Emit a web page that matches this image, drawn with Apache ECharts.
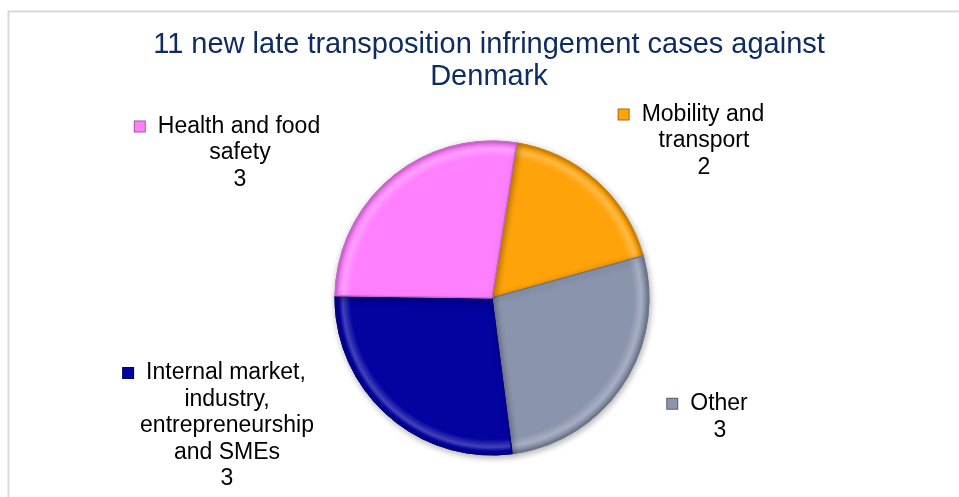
<!DOCTYPE html>
<html>
<head>
<meta charset="utf-8">
<script src="https://cdn.jsdelivr.net/npm/echarts@6/dist/echarts.min.js"></script>
<style>
  html, body { margin: 0; padding: 0; background: #fff; }
  #main { width: 959px; height: 497px; }
</style>
</head>
<body>
<div id="main"></div>
<script>
const titleText = '11 new late transposition infringement cases against\nDenmark';
const categories = ['Mobility and transport', 'Other', 'Internal market, industry, entrepreneurship and SMEs', 'Health and food safety'];
const labelNames = ['Mobility and\ntransport', 'Other', 'Internal market,\nindustry,\nentrepreneurship\nand SMEs', 'Health and food\nsafety'];
const values = [2, 3, 3, 3];
const colors = ['#FFA30A', '#8A94AD', '#0303A0', '#FF80FF'];

// label centres (px), same order as the data
const labelPos = [[704, 141], [720, 417], [227, 426], [240, 153]];

const cx = 492, cy = 298, R = 157;

function mix(hex, target, t) {
  const a = echarts.color.parse(hex), b = echarts.color.parse(target);
  const c = [0, 1, 2].map(i => Math.round(a[i] + (b[i] - a[i]) * t));
  return 'rgb(' + c.join(',') + ')';
}

function bevel(col) {
  return {
    type: 'radial', x: cx, y: cy, r: R, global: true,
    colorStops: [
      {offset: 0, color: col},
      {offset: 0.9, color: col},
      {offset: 0.95, color: mix(col, '#ffffff', 0.25)},
      {offset: 0.975, color: col},
      {offset: 1, color: mix(col, '#000000', 0.25)}
    ]
  };
}

const rich = {
  t: {fontSize: 23, lineHeight: 26.5, color: '#000', fontFamily: 'Liberation Sans, Arial, sans-serif'},
  g: {width: 13},
  s: {width: 25}
};
colors.forEach((c, i) => {
  rich['m' + i] = {
    width: 10, height: 10, backgroundColor: c,
    borderColor: mix(c, '#000000', 0.35), borderWidth: 1
  };
});

const data = categories.map((name, i) => ({
  name: name,
  value: values[i],
  itemStyle: {color: bevel(colors[i]), borderColor: mix(colors[i], '#000000', 0.2)}
}));

const chart = echarts.init(document.getElementById('main'));
chart.setOption({
  backgroundColor: '#fff',
  title: {
    text: titleText,
    left: 489,
    textAlign: 'center',
    top: 29,
    padding: 0,
    textStyle: {
      fontSize: 29,
      lineHeight: 32,
      fontWeight: 'normal',
      color: '#0E2B63',
      fontFamily: 'Liberation Sans, Arial, sans-serif'
    }
  },
  graphic: [{
    type: 'rect',
    shape: {x: 8.5, y: 11.5, width: 1000, height: 600},
    style: {fill: 'none', stroke: '#d9d9d9', lineWidth: 2},
    silent: true
  }],
  series: [{
    type: 'pie',
    center: [cx, cy],
    radius: R,
    startAngle: 81,
    clockwise: true,
    avoidLabelOverlap: false,
    data: data,
    itemStyle: {
      borderWidth: 1,
      shadowBlur: 6,
      shadowOffsetX: 1,
      shadowOffsetY: 2,
      shadowColor: 'rgba(0,0,0,0.3)'
    },
    emphasis: {disabled: true},
    labelLine: {show: false},
    label: {
      show: true,
      position: 'outside',
      align: 'center',
      formatter: p => {
        const lines = labelNames[p.dataIndex].split('\n');
        const out = ['{m' + p.dataIndex + '|}{g|}{t|' + lines[0] + '}{s|}'];
        for (let k = 1; k < lines.length; k++) out.push('{t|' + lines[k] + '}');
        out.push('{t|' + p.value + '}');
        return out.join('\n');
      },
      rich: rich
    },
    labelLayout: p => ({
      x: labelPos[p.dataIndex][0],
      y: labelPos[p.dataIndex][1],
      align: 'center',
      verticalAlign: 'middle'
    })
  }]
});
</script>
</body>
</html>
